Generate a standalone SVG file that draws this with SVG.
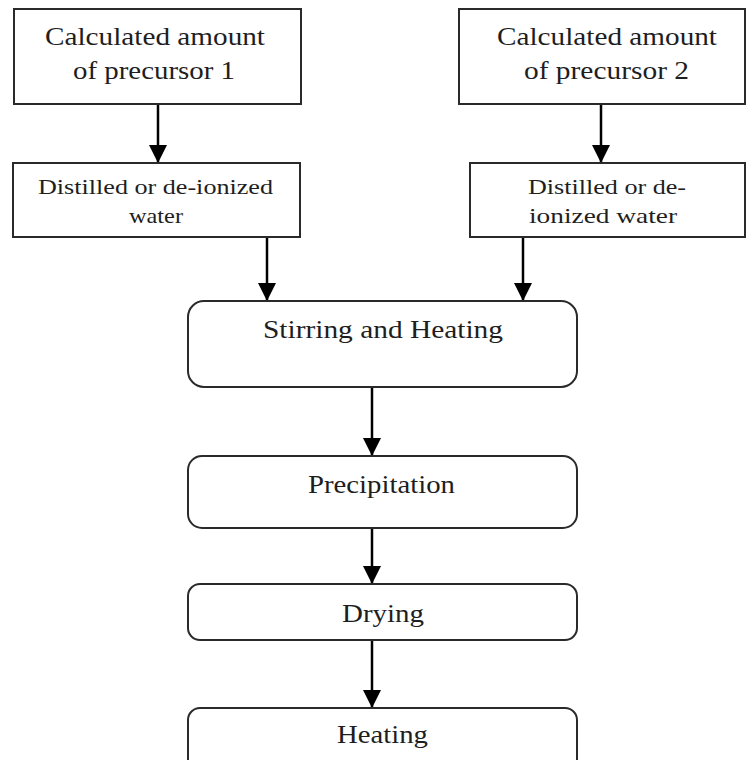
<svg xmlns="http://www.w3.org/2000/svg" width="748" height="760" viewBox="0 0 748 760">
  <style>
    .box { fill: #ffffff; stroke: #2a2a2a; stroke-width: 2; }
    .lbl { font-family: "Liberation Serif", "Times New Roman", serif; fill: #1e1e1e; text-anchor: start; }
    .big { font-size: 25px; }
    .mid { font-size: 21px; }
    .edge { stroke: #000; stroke-width: 2.5; fill: none; marker-end: url(#head); }
  </style>
  <defs>
    <marker id="head" markerUnits="userSpaceOnUse" markerWidth="18" markerHeight="18" refX="18" refY="9" orient="auto">
      <path d="M0,0 L18,9 L0,18 Z" fill="#000"/>
    </marker>
  </defs>
  <rect width="748" height="760" fill="#ffffff"/>

  <g id="connectors">
    <line class="edge" x1="158" y1="104" x2="158" y2="163"/>
    <line class="edge" x1="601" y1="104" x2="601" y2="163"/>
    <line class="edge" x1="267" y1="237" x2="267" y2="301"/>
    <line class="edge" x1="523" y1="237" x2="523" y2="301"/>
    <line class="edge" x1="372" y1="387" x2="372" y2="456"/>
    <line class="edge" x1="372" y1="528" x2="372" y2="584"/>
    <line class="edge" x1="372" y1="640" x2="372" y2="708"/>
  </g>

  <g id="precursor1">
    <rect class="box" x="14" y="9" width="287" height="95"/>
    <text class="lbl big" x="45" y="45" textLength="220" lengthAdjust="spacingAndGlyphs">Calculated amount</text>
    <text class="lbl big" x="73" y="79" textLength="162" lengthAdjust="spacingAndGlyphs">of precursor 1</text>
  </g>

  <g id="precursor2">
    <rect class="box" x="459" y="9" width="286" height="95"/>
    <text class="lbl big" x="497" y="45" textLength="220" lengthAdjust="spacingAndGlyphs">Calculated amount</text>
    <text class="lbl big" x="524" y="79" textLength="165" lengthAdjust="spacingAndGlyphs">of precursor 2</text>
  </g>

  <g id="water1">
    <rect class="box" x="13" y="163" width="287" height="74"/>
    <text class="lbl mid" x="38" y="194" textLength="235" lengthAdjust="spacingAndGlyphs">Distilled or de-ionized</text>
    <text class="lbl mid" x="129" y="223" textLength="54" lengthAdjust="spacingAndGlyphs">water</text>
  </g>

  <g id="water2">
    <rect class="box" x="470" y="163" width="275" height="74"/>
    <text class="lbl mid" x="528" y="194" textLength="158" lengthAdjust="spacingAndGlyphs">Distilled or de-</text>
    <text class="lbl mid" x="529" y="223" textLength="148" lengthAdjust="spacingAndGlyphs">ionized water</text>
  </g>

  <g id="stirring">
    <rect class="box" x="188" y="301" width="389" height="86" rx="16" ry="16"/>
    <text class="lbl big" x="263" y="338" textLength="240" lengthAdjust="spacingAndGlyphs">Stirring and Heating</text>
  </g>

  <g id="precipitation">
    <rect class="box" x="188" y="456" width="389" height="72" rx="14" ry="14"/>
    <text class="lbl big" x="308" y="493" textLength="147" lengthAdjust="spacingAndGlyphs">Precipitation</text>
  </g>

  <g id="drying">
    <rect class="box" x="188" y="584" width="389" height="56" rx="12" ry="12"/>
    <text class="lbl big" x="342" y="622" textLength="82" lengthAdjust="spacingAndGlyphs">Drying</text>
  </g>

  <g id="heating">
    <rect class="box" x="188" y="708" width="389" height="70" rx="12" ry="12"/>
    <text class="lbl big" x="337" y="743" textLength="91" lengthAdjust="spacingAndGlyphs">Heating</text>
  </g>
</svg>
